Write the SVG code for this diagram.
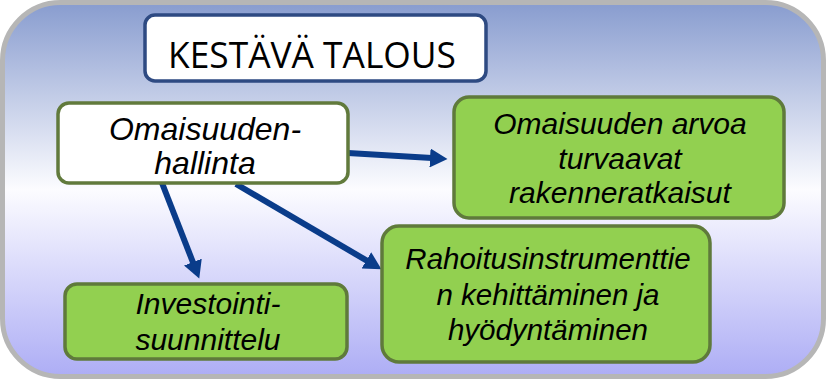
<svg xmlns="http://www.w3.org/2000/svg" width="826" height="379" viewBox="0 0 826 379">
  <defs>
    <linearGradient id="bg" x1="0" y1="0" x2="0" y2="1">
      <stop offset="0" stop-color="#889ccf"/>
      <stop offset="0.5" stop-color="#fcfcff"/>
      <stop offset="1" stop-color="#adadf5"/>
    </linearGradient>
    <marker id="ah" markerUnits="userSpaceOnUse" markerWidth="19" markerHeight="19" refX="2" refY="9.5" orient="auto" viewBox="0 0 19 19">
      <path d="M0,0 L17.5,9.5 L0,19 z" fill="#0a3c8a"/>
    </marker>
    <style>
      .green { fill: #92d050; stroke: #5f7a3b; stroke-width: 3.5; }
      .white { fill: #ffffff; stroke: #617a3c; stroke-width: 3.5; }
      .lbl { font-family: "Liberation Sans", Arial, sans-serif; font-style: italic; font-size: 30px; fill: #000000; text-anchor: middle; }
      .conn { stroke: #0a3c8a; stroke-width: 6; fill: none; marker-end: url(#ah); }
    </style>
  </defs>

  <rect x="2.5" y="2.5" width="821" height="374" rx="58" ry="58" fill="url(#bg)" stroke="#b6b6b6" stroke-width="5"/>

  <g id="title">
    <rect x="145" y="15" width="341" height="66" rx="10" ry="10" fill="#ffffff" stroke="#2e4a82" stroke-width="3.5"/>
    <text x="312" y="68" font-family="Open Sans, Liberation Sans, sans-serif" font-size="37" text-anchor="middle" textLength="288" lengthAdjust="spacingAndGlyphs" fill="#000000">KESTÄVÄ TALOUS</text>
  </g>

  <g id="connectors">
    <line class="conn" x1="348" y1="153" x2="432" y2="158.1"/>
    <line class="conn" x1="162" y1="183" x2="193.6" y2="264"/>
    <line class="conn" x1="236" y1="184" x2="368.1" y2="261.4"/>
  </g>

  <g id="omaisuudenhallinta">
    <rect class="white" x="58" y="103" width="290" height="80" rx="11" ry="11"/>
    <text class="lbl" x="205" y="140" style="font-size:32px">Omaisuuden-</text>
    <text class="lbl" x="205" y="174" style="font-size:32px">hallinta</text>
  </g>

  <g id="rakenneratkaisut">
    <rect class="green" x="454" y="97" width="330" height="121" rx="15" ry="15"/>
    <text class="lbl" x="620" y="134">Omaisuuden arvoa</text>
    <text class="lbl" x="620" y="169">turvaavat</text>
    <text class="lbl" x="620" y="203">rakenneratkaisut</text>
  </g>

  <g id="rahoitusinstrumentit">
    <rect class="green" x="382" y="226" width="328" height="136" rx="17" ry="17"/>
    <text class="lbl" x="548" y="269" style="font-size:29.5px">Rahoitusinstrumenttie</text>
    <text class="lbl" x="548" y="305" style="font-size:29.5px">n kehittäminen ja</text>
    <text class="lbl" x="548" y="340" style="font-size:29.5px">hyödyntäminen</text>
  </g>

  <g id="investointisuunnittelu">
    <rect class="green" x="65" y="284" width="282" height="75" rx="12" ry="12"/>
    <text class="lbl" x="208" y="314">Investointi-</text>
    <text class="lbl" x="208" y="350">suunnittelu</text>
  </g>
</svg>
